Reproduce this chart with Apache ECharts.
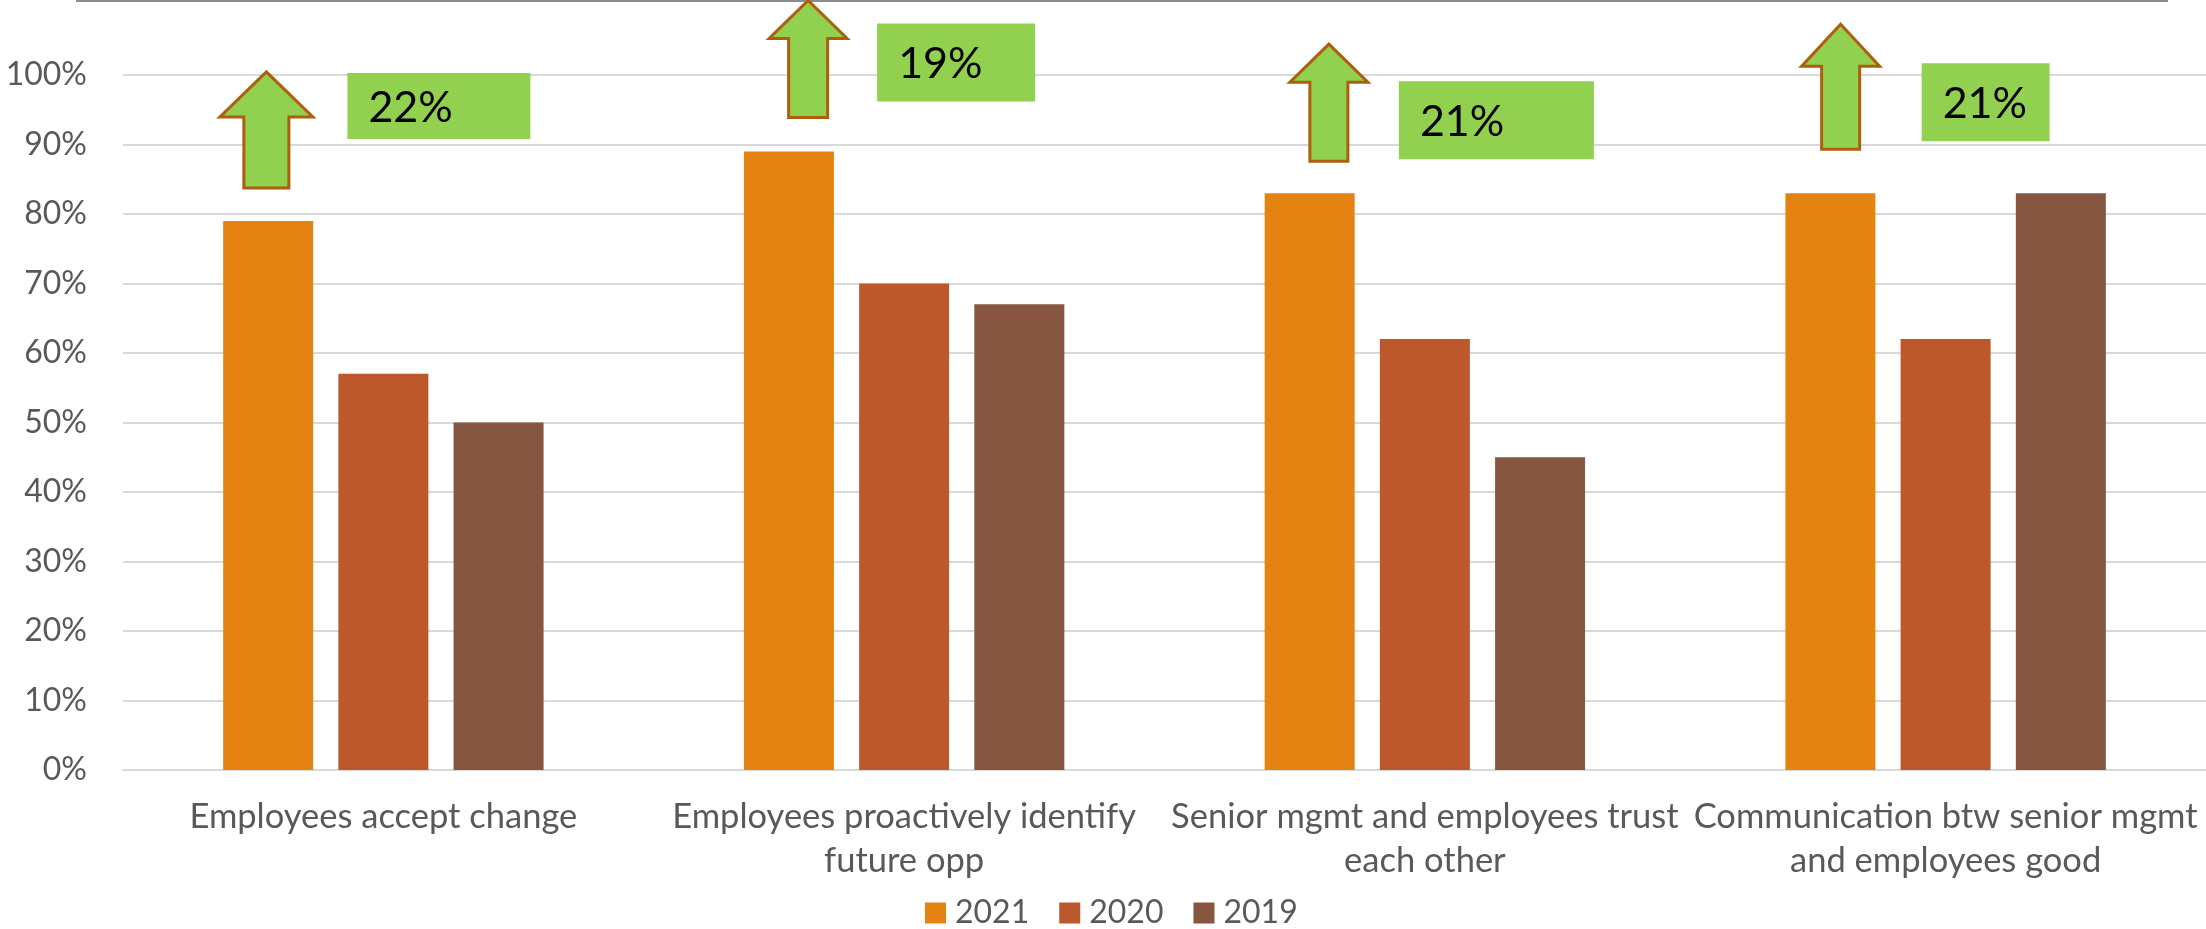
<!DOCTYPE html>
<html>
<head>
<meta charset="utf-8">
<title>Culture survey results 2019–2021</title>
<script src="https://cdn.jsdelivr.net/npm/echarts@6/dist/echarts.min.js"></script>
<style>
  html, body { margin: 0; padding: 0; background: #ffffff; }
  #chart { width: 2206px; height: 929px; }
</style>
</head>
<body>
<div id="chart"></div>
<script>
// Survey statements (category axis)
const categories = [
  'Employees accept change',
  'Employees proactively identify\nfuture opp',
  'Senior mgmt and employees trust\neach other',
  'Communication btw senior mgmt\nand employees good'
];

// Share of respondents agreeing, in percent
const years = ['2021', '2020', '2019'];
const values2021 = [79, 89, 83, 83];
const values2020 = [57, 70, 62, 62];
const values2019 = [50, 67, 45, 83];

// Value axis ticks
const yMin = 0;
const yMax = 100;
const yStep = 10;

const colors = ['#E48312', '#BD582C', '#865640'];
const textColor = '#595959';
const fontFamily = 'Lato, "Open Sans", sans-serif';

// Call-out arrows and gain boxes, placed relative to each category centre
// and to the top of the 2021 bar.
const arrowLayout = [
  { dx: -117, gap: 33, w: 93, shaft: 45, h: 116, head: 45 },
  { dx: -96,  gap: 34, w: 78, shaft: 39, h: 117, head: 38 },
  { dx: -96,  gap: 32, w: 78, shaft: 38, h: 117, head: 38 },
  { dx: -105, gap: 44, w: 78, shaft: 38, h: 125, head: 42 }
];
const boxLayout = [
  { dx: -36, top: -148, w: 183, h: 66 },
  { dx: -27, top: -128, w: 158, h: 78 },
  { dx: -26, top: -112, w: 195, h: 78 },
  { dx: -24, top: -130, w: 128, h: 78 }
];

const chart = echarts.init(document.getElementById('chart'), null, { renderer: 'canvas' });

const seriesData = [values2021, values2020, values2019];

chart.setOption({
  animation: false,
  backgroundColor: '#ffffff',
  textStyle: { fontFamily: fontFamily },
  grid: { left: 123, right: 0, top: 75, bottom: 159, containLabel: false },
  legend: {
    data: years,
    left: 925,
    top: 897,
    padding: 0,
    itemWidth: 21,
    itemHeight: 21,
    itemGap: 30,
    icon: 'rect',
    textStyle: { color: textColor, fontSize: 32, fontFamily: fontFamily, padding: [0, 0, 0, 4] }
  },
  xAxis: {
    type: 'category',
    data: categories,
    axisLine: { show: true, lineStyle: { color: '#D9D9D9', width: 2 } },
    axisTick: { show: false },
    axisLabel: {
      interval: 0,
      color: textColor,
      fontSize: 34.5,
      lineHeight: 44,
      margin: 25,
      fontFamily: fontFamily,
      align: 'center'
    }
  },
  yAxis: {
    type: 'value',
    min: yMin,
    max: yMax,
    interval: yStep,
    axisLine: { show: false },
    axisTick: { show: false },
    splitLine: { lineStyle: { color: '#D9D9D9', width: 2 } },
    axisLabel: {
      formatter: '{value}%',
      color: textColor,
      fontSize: 32,
      margin: 36,
      fontFamily: fontFamily
    }
  },
  series: years.map((y, i) => ({
    name: y,
    type: 'bar',
    data: seriesData[i],
    barWidth: 90,
    barGap: '28%',
    itemStyle: { color: colors[i] }
  }))
});

// Up-arrows and gain labels (2021 vs 2020)
const graphics = [];
categories.forEach((c, i) => {
  const centre = chart.convertToPixel({ xAxisIndex: 0, yAxisIndex: 0 }, [i, values2021[i]]);
  const cx = centre[0];
  const barTop = centre[1];

  const a = arrowLayout[i];
  const tipX = cx + a.dx;
  const bottom = barTop - a.gap;
  const tipY = bottom - a.h;
  const wingY = tipY + a.head;
  graphics.push({
    type: 'polygon',
    z: 100,
    shape: {
      points: [
        [tipX, tipY],
        [tipX + a.w / 2, wingY],
        [tipX + a.shaft / 2, wingY],
        [tipX + a.shaft / 2, bottom],
        [tipX - a.shaft / 2, bottom],
        [tipX - a.shaft / 2, wingY],
        [tipX - a.w / 2, wingY]
      ]
    },
    style: { fill: '#92D050', stroke: '#AE5F0C', lineWidth: 3, lineJoin: 'miter' }
  });

  const b = boxLayout[i];
  const bx = cx + b.dx;
  const by = barTop + b.top;
  const gain = values2021[i] - values2020[i];
  graphics.push({
    type: 'rect',
    z: 100,
    shape: { x: bx, y: by, width: b.w, height: b.h },
    style: { fill: '#92D050' }
  });
  graphics.push({
    type: 'text',
    z: 101,
    x: bx + 21,
    y: by + b.h / 2 + 2,
    style: {
      text: gain + '%',
      fill: '#000000',
      font: '43px ' + fontFamily,
      verticalAlign: 'middle',
      align: 'left'
    }
  });
});

// Frame line along the top of the chart area
graphics.push({
  type: 'line',
  z: 90,
  shape: { x1: 76, y1: 1, x2: 2168, y2: 1 },
  style: { stroke: '#8C8C8C', lineWidth: 2 }
});

chart.setOption({ graphic: graphics });
</script>
</body>
</html>
